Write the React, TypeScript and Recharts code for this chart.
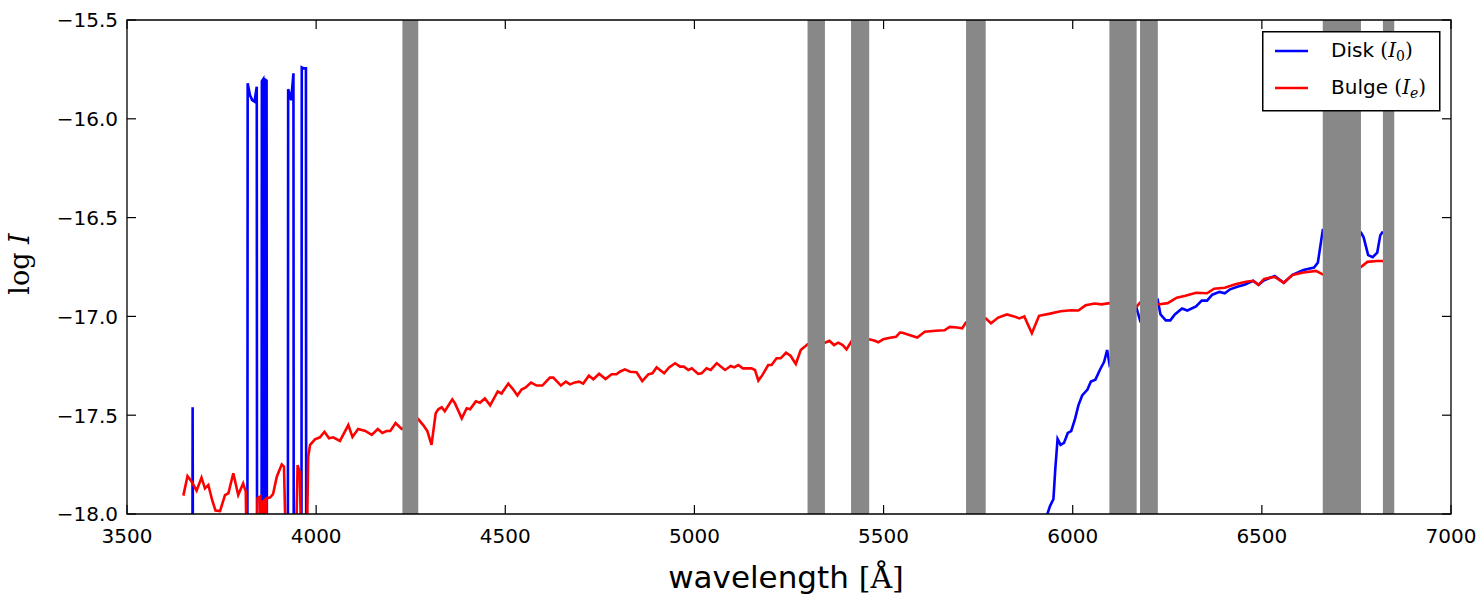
import React from 'react';
import { LineChart, Line, XAxis, YAxis, ReferenceArea, Legend } from 'recharts';

const bulgeWave = [
  3649, 3660, 3671, 3684, 3697, 3706, 3715, 3725, 3734, 3746, 3759, 3768, 3781, 3794, 3807, 3814,
  3819, 3840, 3845, 3852, 3856, 3859, 3861, 3864, 3866, 3869, 3878, 3886, 3896, 3909, 3915, 3925,
  3942, 3951, 3957, 3964, 3972, 3979, 3984, 3997, 4010, 4022, 4034, 4045, 4063, 4085, 4096, 4111,
  4130, 4147, 4163, 4175, 4186, 4196, 4210, 4226, 4250, 4270, 4283, 4294, 4305, 4316, 4323, 4332,
  4340, 4350, 4360, 4367, 4385, 4398, 4407, 4422, 4433, 4446, 4460, 4480, 4490, 4508, 4521, 4532,
  4543, 4554, 4568, 4583, 4598, 4618, 4627, 4647, 4660, 4671, 4684, 4695, 4706, 4721, 4733, 4748,
  4765, 4781, 4794, 4803, 4816, 4830, 4847, 4862, 4878, 4889, 4900, 4920, 4933, 4949, 4962, 4972,
  4984, 4993, 5010, 5019, 5032, 5043, 5059, 5081, 5096, 5105, 5116, 5128, 5151, 5160, 5169, 5180,
  5195, 5204, 5217, 5228, 5242, 5254, 5268, 5281, 5292, 5299, 5320, 5345, 5357, 5369, 5380, 5392,
  5402, 5416, 5440, 5462, 5477, 5486, 5499, 5517, 5533, 5543, 5550, 5562, 5589, 5609, 5638, 5661,
  5675, 5694, 5708, 5718, 5745, 5770, 5784, 5803, 5826, 5845, 5859, 5872, 5892, 5911, 5940, 5968,
  5996, 6015, 6034, 6058, 6076, 6097, 6130, 6169, 6178, 6200, 6225, 6251, 6275, 6298, 6326, 6355,
  6374, 6402, 6430, 6458, 6477, 6491, 6506, 6534, 6558, 6581, 6610, 6643, 6661, 6710, 6762, 6779,
  6803, 6820, 6823,
];
const bulgeLogI = [
  -17.907, -17.808, -17.837, -17.882, -17.816, -17.87, -17.853, -17.929, -17.983, -17.985, -17.904, -17.895, -17.794, -17.904, -17.845, -17.887,
  -18.6, -18.6, -17.92, -17.912, -18.6, -17.93, -18.6, -17.92, -18.5, -17.92, -17.917, -17.9, -17.811, -17.749, -17.76, -18.6,
  -18.6, -17.752, -17.794, -18.6, -18.6, -17.71, -17.65, -17.622, -17.612, -17.584, -17.617, -17.612, -17.63, -17.55, -17.61, -17.57,
  -17.58, -17.6, -17.57, -17.59, -17.58, -17.58, -17.54, -17.57, -17.55, -17.52, -17.55, -17.58, -17.65, -17.49, -17.47, -17.46,
  -17.48, -17.45, -17.42, -17.44, -17.516, -17.465, -17.47, -17.43, -17.437, -17.415, -17.45, -17.38, -17.39, -17.34, -17.37, -17.4,
  -17.37, -17.36, -17.335, -17.35, -17.35, -17.31, -17.31, -17.35, -17.33, -17.344, -17.334, -17.33, -17.34, -17.3, -17.318, -17.29,
  -17.317, -17.293, -17.293, -17.28, -17.268, -17.28, -17.283, -17.327, -17.293, -17.288, -17.258, -17.288, -17.258, -17.237, -17.254, -17.254,
  -17.271, -17.263, -17.291, -17.288, -17.263, -17.271, -17.237, -17.271, -17.251, -17.258, -17.246, -17.263, -17.263, -17.271, -17.325, -17.296,
  -17.246, -17.246, -17.212, -17.212, -17.184, -17.199, -17.241, -17.17, -17.153, -17.141, -17.14, -17.133, -17.123, -17.145, -17.133, -17.145,
  -17.167, -17.123, -17.12, -17.116, -17.123, -17.131, -17.116, -17.108, -17.103, -17.082, -17.083, -17.09, -17.107, -17.078, -17.073, -17.07,
  -17.053, -17.056, -17.06, -17.03, -17.02, -17.01, -17.035, -17.006, -16.99, -17.0, -17.01, -17.0, -17.085, -16.997, -16.986, -16.974,
  -16.969, -16.97, -16.944, -16.935, -16.939, -16.933, -16.94, -16.95, -16.93, -16.93, -16.94, -16.933, -16.905, -16.896, -16.88, -16.883,
  -16.86, -16.855, -16.837, -16.825, -16.82, -16.84, -16.81, -16.8, -16.83, -16.79, -16.778, -16.77, -16.787, -16.77, -16.75, -16.724,
  -16.72, -16.72, -16.725,
];

const diskWave = [
  3649, 3672.5, 3673.5, 3675, 3818, 3819, 3825, 3831, 3837, 3843, 3844, 3855.5, 3856.5, 3860, 3861, 3863,
  3864, 3869, 3870, 3925, 3926, 3934, 3940, 3941, 3961, 3962, 3967, 3973, 3974, 5930, 5933, 5940,
  5949, 5954, 5960, 5968, 5977, 5987, 5996, 6006, 6015, 6025, 6039, 6048, 6060, 6072, 6083, 6091,
  6097, 6130, 6169, 6178, 6200, 6225, 6232, 6246, 6258, 6270, 6289, 6303, 6326, 6341, 6355, 6369,
  6388, 6402, 6416, 6435, 6454, 6477, 6491, 6506, 6534, 6558, 6581, 6610, 6638, 6648, 6661, 6710,
  6762, 6769, 6781, 6793, 6805, 6813, 6820,
];
const diskLogI = [
  -19, -19, -17.46, -19, -19, -15.82, -15.88, -15.905, -15.913, -15.838, -19, -19, -15.81, -15.8, -19, -19,
  -15.8, -15.807, -19, -19, -15.85, -15.905, -15.77, -19, -19, -15.74, -15.745, -15.745, -19, -19, -18.0, -17.96,
  -17.925, -17.77, -17.62, -17.65, -17.64, -17.59, -17.58, -17.52, -17.45, -17.4, -17.37, -17.33, -17.32, -17.27, -17.23, -17.17,
  -17.24, -17.1, -16.96, -17.02, -16.97, -16.92, -16.99, -17.02, -17.02, -16.99, -16.96, -16.97, -16.95, -16.92, -16.92, -16.89,
  -16.876, -16.883, -16.863, -16.85, -16.84, -16.82, -16.84, -16.817, -16.795, -16.83, -16.79, -16.765, -16.753, -16.728, -16.564, -16.57,
  -16.576, -16.6, -16.69, -16.7, -16.677, -16.59, -16.57,
];

// masked wavelength windows (grey bands)
const maskStart = [4228, 5299, 5414, 5718, 6097, 6178, 6661, 6820];
const maskEnd = [4270, 5345, 5462, 5770, 6169, 6225, 6762, 6850];

const xTicks = [3500, 4000, 4500, 5000, 5500, 6000, 6500, 7000];
const yTicks = [-18, -17.5, -17, -16.5, -16, -15.5];

const bulgeData = bulgeWave.map((x, i) => ({ x, y: bulgeLogI[i] }));
const diskData = diskWave.map((x, i) => ({ x, y: diskLogI[i] }));

const PLOT = { left: 127, top: 20, right: 1451, bottom: 514 };
const TICK = 9;
const SANS = 'DejaVu Sans';
const SERIF = 'DejaVu Serif';

const XTick = (props: any) => {
  const { x, payload } = props;
  return (
    <g>
      <line x1={x} x2={x} y1={PLOT.bottom} y2={PLOT.bottom - TICK} stroke="#000" strokeWidth={1.2} />
      <line x1={x} x2={x} y1={PLOT.top} y2={PLOT.top + TICK} stroke="#000" strokeWidth={1.2} />
      <text x={x} y={543} textAnchor="middle" fontFamily={SANS} fontSize={20} fill="#000">
        {payload.value}
      </text>
    </g>
  );
};

const YTick = (props: any) => {
  const { y, payload } = props;
  const label = payload.value.toFixed(1).replace('-', '\u2212');
  return (
    <g>
      <line x1={PLOT.left} x2={PLOT.left + TICK} y1={y} y2={y} stroke="#000" strokeWidth={1.2} />
      <line x1={PLOT.right} x2={PLOT.right - TICK} y1={y} y2={y} stroke="#000" strokeWidth={1.2} />
      <text x={118} y={y + 7.3} textAnchor="end" fontFamily={SANS} fontSize={20} fill="#000">
        {label}
      </text>
    </g>
  );
};

const renderLegend = () => (
  <svg width={180} height={82} style={{ display: 'block' }}>
    <rect x={0.75} y={0.75} width={177} height={79} fill="#fff" stroke="#000" strokeWidth={1.5} />
    <line x1={13} x2={46} y1={20} y2={20} stroke="#0000ff" strokeWidth={2.5} />
    <text x={69} y={26} fontFamily={SANS} fontSize={20} fill="#000">
      Disk{' '}
      <tspan fontFamily={SERIF}>(</tspan>
      <tspan fontFamily={SERIF} fontStyle="italic">I</tspan>
      <tspan fontFamily={SERIF} fontSize={14} dy={4}>0</tspan>
      <tspan fontFamily={SERIF} dy={-4}>)</tspan>
    </text>
    <line x1={13} x2={46} y1={57} y2={57} stroke="#ff0000" strokeWidth={2.5} />
    <text x={69} y={63} fontFamily={SANS} fontSize={20} fill="#000">
      Bulge{' '}
      <tspan fontFamily={SERIF}>(</tspan>
      <tspan fontFamily={SERIF} fontStyle="italic">I</tspan>
      <tspan fontFamily={SERIF} fontSize={14} fontStyle="italic" dy={4}>e</tspan>
      <tspan fontFamily={SERIF} dy={-4}>)</tspan>
    </text>
  </svg>
);

export default function App() {
  return (
    <div style={{ position: 'absolute', left: 0, top: 0, background: '#fff' }}>
      <LineChart width={1484} height={599} margin={{ top: 20, right: 33, bottom: 0, left: 0 }}>
        <XAxis
          dataKey="x"
          type="number"
          domain={[3500, 7000]}
          ticks={xTicks}
          allowDataOverflow
          axisLine={false}
          tickLine={false}
          tick={<XTick />}
          height={85}
          interval={0}
          label={{
            content: () => (
              <text x={786} y={588} textAnchor="middle" fill="#000">
                <tspan fontFamily={SANS} fontSize={31}>wavelength </tspan>
                <tspan fontFamily={SERIF} fontSize={30}>[Å]</tspan>
              </text>
            ),
          }}
        />
        <YAxis
          type="number"
          domain={[-18, -15.5]}
          ticks={yTicks}
          allowDataOverflow
          axisLine={false}
          tickLine={false}
          tick={<YTick />}
          width={127}
          interval={0}
          label={{
            content: () => (
              <text x={29} y={264} transform="rotate(-90 29 264)" textAnchor="middle" fontFamily={SERIF} fontSize={27} fill="#000">
                log <tspan fontStyle="italic">I</tspan>
              </text>
            ),
          }}
        />
        <Line data={diskData} dataKey="y" type="linear" stroke="#0000ff" strokeWidth={2.6} dot={false} isAnimationActive={false} />
        <Line data={bulgeData} dataKey="y" type="linear" stroke="#ff0000" strokeWidth={2.6} dot={false} isAnimationActive={false} />
        {maskStart.map((x1, i) => (
          <ReferenceArea
            key={i}
            x1={x1}
            x2={maskEnd[i]}
            y1={-18}
            y2={-15.5}
            fill="#888888"
            fillOpacity={1}
            stroke="none"
            zIndex={1000}
          />
        ))}
        <ReferenceArea x1={3500} x2={7000} y1={-18} y2={-15.5} fill="none" stroke="#000" strokeWidth={1.3} zIndex={1001} />
        <Legend
          layout="vertical"
          align="center"
          verticalAlign="middle"
          content={renderLegend}
          wrapperStyle={{ left: 1262, top: 31, width: 180, height: 82, margin: 0, padding: 0 }}
        />
      </LineChart>
    </div>
  );
}
